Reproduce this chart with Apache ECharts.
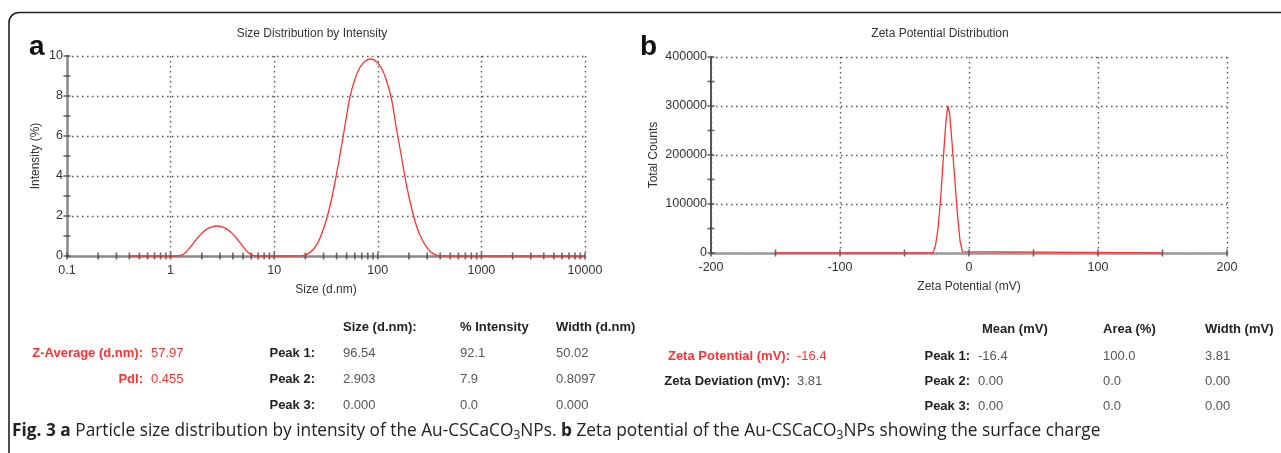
<!DOCTYPE html>
<html><head><meta charset="utf-8">
<script src="https://cdn.jsdelivr.net/npm/echarts@6/dist/echarts.min.js"></script>
<style>html,body{margin:0;padding:0;background:#fff}#c{width:1281px;height:453px}</style>
</head><body><div id="c"></div>
<script>
// ---- panel a: size distribution by intensity ----
const sizeX = [0.4, 1.11, 1.25, 1.40, 1.57, 1.77, 1.98, 2.22, 2.5, 2.8, 3.14, 3.52, 3.96, 4.44, 4.98, 5.59, 6.27, 7.03,
  16.9, 19.0, 21.3, 24.0, 26.9, 30.1, 33.8, 38.0, 42.6, 47.8, 53.6, 60.2, 67.5, 75.8, 85, 95.4, 107, 120, 135, 151, 170, 190, 214, 240, 269, 302, 338, 380, 426, 1000, 10000];
const sizeY = [0, 0, 0.03, 0.18, 0.48, 0.82, 1.12, 1.33, 1.46, 1.5, 1.46, 1.33, 1.12, 0.82, 0.48, 0.18, 0.03, 0,
  0, 0.02, 0.12, 0.35, 0.75, 1.4, 2.3, 3.5, 4.9, 6.4, 7.9, 8.85, 9.45, 9.75, 9.85, 9.75, 9.45, 8.85, 7.9, 6.4, 4.9, 3.5, 2.3, 1.4, 0.8, 0.38, 0.13, 0.02, 0, 0, 0];
const sizeTicks = [0.1,0.2,0.3,0.4,0.5,0.6,0.7,0.8,0.9,1,2,3,4,5,6,7,8,9,10,20,30,40,50,60,70,80,90,100,200,300,400,500,600,700,800,900,1000,2000,3000,4000,5000,6000,7000,8000,9000,10000];
const intensityTicks = [0,1,2,3,4,5,6,7,8,9,10];

// ---- panel b: zeta potential distribution ----
const zetaX = [-150, -28, -26, -24, -22, -20, -18, -16.4, -15, -13, -11, -9, -7, -5, -4, 150];
const zetaY = [0, 0, 15000, 50000, 110000, 190000, 265000, 300000, 285000, 220000, 150000, 80000, 25000, 3000, 0, 0];
const zetaTicks = [-200,-150,-100,-50,0,50,100,150,200];
const countTicks = [0,50000,100000,150000,200000,250000,300000,350000,400000];

// ---- tables ----
const sizeHeaders = ['Size (d.nm):', '% Intensity', 'Width (d.nm)'];
const peakLabels = ['Peak 1:', 'Peak 2:', 'Peak 3:'];
const sizePeakSize = ['96.54', '2.903', '0.000'];
const sizePeakIntensity = ['92.1', '7.9', '0.0'];
const sizePeakWidth = ['50.02', '0.8097', '0.000'];
const sizeSummaryLabels = ['Z-Average (d.nm):', 'PdI:'];
const sizeSummaryValues = ['57.97', '0.455'];
const zetaHeaders = ['Mean (mV)', 'Area (%)', 'Width (mV)'];
const zetaPeakMean = ['-16.4', '0.00', '0.00'];
const zetaPeakArea = ['100.0', '0.0', '0.0'];
const zetaPeakWidth = ['3.81', '0.00', '0.00'];
const zetaSummaryLabels = ['Zeta Potential (mV):', 'Zeta Deviation (mV):'];
const zetaSummaryValues = ['-16.4', '3.81'];
const captionParts = [['b','Fig. 3 a'],['n',' Particle size distribution by intensity of the Au-CSCaCO'],['s','3'],['n','NPs. '],['b','b'],['n',' Zeta potential of the Au-CSCaCO'],['s','3'],['n','NPs showing the surface charge']];

const FONT = '"Liberation Sans", Arial, sans-serif';
const RED = '#ff3030';
const GRIDLINE = {show:true, lineStyle:{color:'#555', width:1.4, type:[1.5,3.5]}};

function txt(x, y, text, opt) {
  opt = opt || {};
  const size = opt.size || 13;
  return {type:'text', x:x, y:y, silent:true, style:{
    text:text, font:(opt.bold?'bold ':'') + size + 'px ' + (opt.family || FONT),
    fill:opt.color || '#555', textAlign:opt.align || 'left', textVerticalAlign:'middle',
    align:opt.align || 'left', verticalAlign:'middle'}};
}

const graphics = [];
graphics.push({type:'rect', shape:{x:9, y:12.5, width:1320, height:520, r:10}, style:{fill:'none', stroke:'#222', lineWidth:1.6}, silent:true});
graphics.push(txt(29, 47, 'a', {bold:true, size:28, color:'#111'}));
graphics.push(txt(640, 47, 'b', {bold:true, size:28, color:'#111'}));
graphics.push(txt(312, 34, 'Size Distribution by Intensity', {size:12, color:'#333', align:'center'}));
graphics.push(txt(940, 34, 'Zeta Potential Distribution', {size:12, color:'#333', align:'center'}));

// left table
const sCols = [343, 460, 556];
const sRows = [353, 379, 405];
sizeHeaders.forEach((h,i)=>graphics.push(txt(sCols[i], 327, h, {bold:true, color:'#222'})));
peakLabels.forEach((p,r)=>{
  graphics.push(txt(315, sRows[r], p, {bold:true, color:'#222', align:'right'}));
  graphics.push(txt(sCols[0], sRows[r], sizePeakSize[r]));
  graphics.push(txt(sCols[1], sRows[r], sizePeakIntensity[r]));
  graphics.push(txt(sCols[2], sRows[r], sizePeakWidth[r]));
});
sizeSummaryLabels.forEach((l,r)=>{
  graphics.push(txt(143, sRows[r], l, {bold:true, color:RED, align:'right'}));
  graphics.push(txt(151, sRows[r], sizeSummaryValues[r], {color:RED}));
});
// right table
const zCols = [978, 1103, 1205];
const zRows = [356, 381, 406];
zetaHeaders.forEach((h,i)=>graphics.push(txt(i===0?982:zCols[i], 329, h, {bold:true, color:'#222'})));
peakLabels.forEach((p,r)=>{
  graphics.push(txt(970, zRows[r], p, {bold:true, color:'#222', align:'right'}));
  graphics.push(txt(zCols[0], zRows[r], zetaPeakMean[r]));
  graphics.push(txt(zCols[1], zRows[r], zetaPeakArea[r]));
  graphics.push(txt(zCols[2], zRows[r], zetaPeakWidth[r]));
});
zetaSummaryLabels.forEach((l,r)=>{
  graphics.push(txt(790, zRows[r], l, {bold:true, color:r===0?RED:'#222', align:'right'}));
  graphics.push(txt(797, zRows[r], zetaSummaryValues[r], {color:r===0?RED:'#555'}));
});
// caption
const CAP = '"Open Sans", "Noto Sans", sans-serif';
graphics.push({type:'text', x:12, y:431, silent:true, style:{
  text: captionParts.map(p=>'{'+p[0]+'|'+p[1]+'}').join(''),
  textVerticalAlign:'middle', verticalAlign:'middle',
  rich:{
    b:{fontFamily:CAP, fontWeight:'bold', fontSize:17.3, fill:'#222', color:'#222', lineHeight:22},
    n:{fontFamily:CAP, fontSize:17.3, fill:'#222', color:'#222', lineHeight:22},
    s:{fontFamily:CAP, fontSize:12, fill:'#222', color:'#222', lineHeight:22, padding:[9,0,0,0]}
  }}});

function tickSeries(xi, yi, pts, vertical) {
  return {type:'scatter', xAxisIndex:xi, yAxisIndex:yi, data:pts, symbol:'rect',
    symbolSize: vertical ? [1.6, 7] : [7, 1.6], itemStyle:{color:'#444'}, silent:true, z:6,
    clip:false, animation:false};
}

const option = {
  animation:false,
  backgroundColor:'#fff',
  textStyle:{fontFamily:FONT},
  grid:[
    {left:67, top:56, width:518, height:200, containLabel:false},
    {left:711, top:57, width:516, height:196, containLabel:false}
  ],
  xAxis:[
    {gridIndex:0, type:'log', logBase:10, min:0.1, max:10000, splitNumber:5,
     name:'Size (d.nm)', nameLocation:'middle', nameGap:28,
     nameTextStyle:{fontSize:12, color:'#333', fontFamily:FONT},
     axisLine:{show:true, onZero:false, lineStyle:{color:'#8a8a8a', width:2.5}},
     axisTick:{show:false}, minorTick:{show:false},
     axisLabel:{fontSize:12.5, color:'#333', margin:8, fontFamily:FONT, formatter:v=>String(+(+v).toPrecision(6))},
     splitLine:GRIDLINE},
    {gridIndex:1, type:'value', min:-200, max:200, interval:100,
     name:'Zeta Potential (mV)', nameLocation:'middle', nameGap:28,
     nameTextStyle:{fontSize:12, color:'#333', fontFamily:FONT},
     axisLine:{show:true, onZero:false, lineStyle:{color:'#999', width:2.5}},
     axisTick:{show:false},
     axisLabel:{fontSize:12.5, color:'#333', margin:8, fontFamily:FONT, formatter:v=>String(v)},
     splitLine:GRIDLINE}
  ],
  yAxis:[
    {gridIndex:0, type:'value', min:0, max:10, interval:2,
     name:'Intensity (%)', nameLocation:'middle', nameGap:25,
     nameTextStyle:{fontSize:12, color:'#333', fontFamily:FONT},
     axisLine:{show:true, onZero:false, lineStyle:{color:'#8a8a8a', width:2.5}},
     axisTick:{show:false},
     axisLabel:{fontSize:12.5, color:'#333', margin:4, fontFamily:FONT},
     splitLine:GRIDLINE},
    {gridIndex:1, type:'value', min:0, max:400000, interval:100000,
     name:'Total Counts', nameLocation:'middle', nameGap:51,
     nameTextStyle:{fontSize:12, color:'#333', fontFamily:FONT},
     axisLine:{show:true, onZero:false, lineStyle:{color:'#555', width:2}},
     axisTick:{show:false},
     axisLabel:{fontSize:12.5, color:'#333', margin:4, fontFamily:FONT, formatter:v=>String(v)},
     splitLine:GRIDLINE}
  ],
  series:[
    tickSeries(0, 0, sizeTicks.map(v=>[v, 0]), true),
    tickSeries(0, 0, intensityTicks.map(v=>[0.1, v]), false),
    tickSeries(1, 1, zetaTicks.map(v=>[v, 0]), true),
    tickSeries(1, 1, countTicks.map(v=>[-200, v]), false),
    {type:'line', xAxisIndex:0, yAxisIndex:0, data:sizeX.map((x,i)=>[x, sizeY[i]]),
     showSymbol:false, smooth:0.35, lineStyle:{color:RED, width:1.3}, z:10, silent:true},
    {type:'line', xAxisIndex:1, yAxisIndex:1, data:zetaX.map((x,i)=>[x, zetaY[i]]),
     showSymbol:false, smooth:false, lineStyle:{color:RED, width:1.3}, z:10, silent:true}
  ],
  graphic:graphics
};
const chart = echarts.init(document.getElementById('c'), null, {renderer:'canvas'});
chart.setOption(option);
</script></body></html>
